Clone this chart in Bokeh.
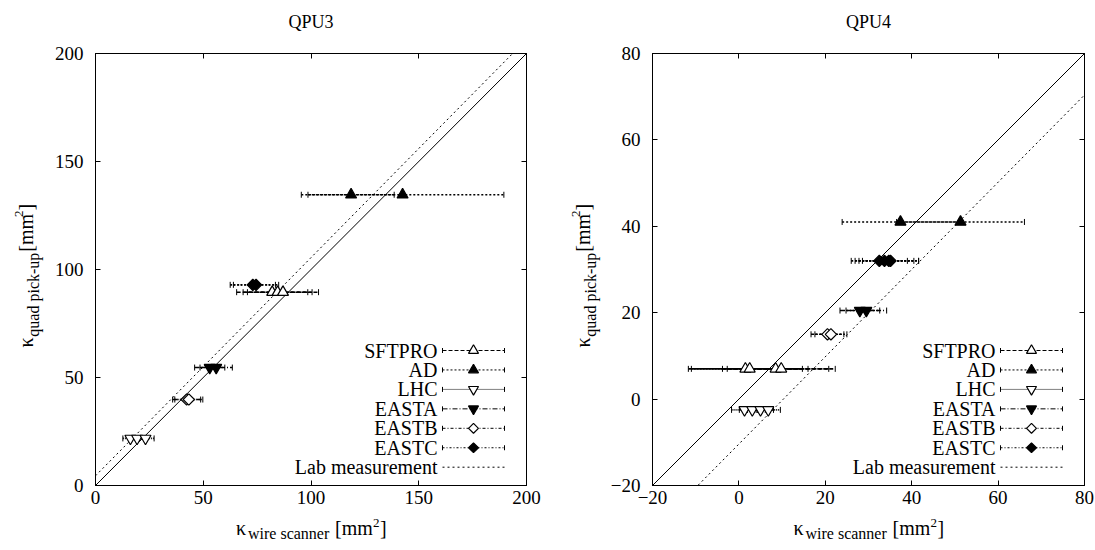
import numpy as np
from bokeh.plotting import figure
from bokeh.layouts import row, column
from bokeh.models import Range1d, LinearAxis, FixedTicker
from bokeh.core.properties import value
from bokeh.embed import file_html
from bokeh.resources import INLINE

SERIES = ["SFTPRO", "AD", "LHC", "EASTA", "EASTB", "EASTC"]
LAB_NAME = "Lab measurement"
TITLES = ["QPU3", "QPU4"]

Q3_RANGE = [0, 200]
Q3_TICKS = [0, 50, 100, 150, 200]
Q4_RANGE = [-20, 80]
Q4_TICKS = [-20, 0, 20, 40, 60, 80]

# ---- QPU3 (x = wire scanner, y = quad pick-up, half-width error in x)
Q3_SFTPRO_X = [82.0, 84.5, 87.0]
Q3_SFTPRO_Y = [89.5, 89.5, 89.5]
Q3_SFTPRO_ERR = [16.5, 16.0, 16.5]
Q3_AD_X = [118.6, 142.5]
Q3_AD_Y = [134.6, 134.6]
Q3_AD_ERR = [20.0, 47.0]
Q3_LHC_X = [16.2, 19.3, 23.2]
Q3_LHC_Y = [21.8, 21.8, 21.8]
Q3_LHC_ERR = [3.5, 3.5, 4.0]
Q3_EASTA_X = [53.0, 56.0]
Q3_EASTA_Y = [54.6, 54.6]
Q3_EASTA_ERR = [7.0, 7.5]
Q3_EASTB_X = [42.3, 43.3]
Q3_EASTB_Y = [39.8, 39.8]
Q3_EASTB_ERR = [6.5, 6.5]
Q3_EASTC_X = [73.0, 74.5]
Q3_EASTC_Y = [92.9, 92.9]
Q3_EASTC_ERR = [10.5, 10.5]
Q3_LAB_SLOPE = 1.01
Q3_LAB_INTERCEPT = 4.5

# ---- QPU4
Q4_SFTPRO_X = [1.5, 2.5, 8.5, 9.8]
Q4_SFTPRO_Y = [7.0, 7.0, 7.0, 7.0]
Q4_SFTPRO_ERR = [13.2, 13.5, 12.3, 12.5]
Q4_AD_X = [37.4, 51.3]
Q4_AD_Y = [41.0, 41.0]
Q4_AD_ERR = [13.5, 14.8]
Q4_LHC_X = [1.3, 3.1, 5.0, 6.8]
Q4_LHC_Y = [-2.5, -2.5, -2.5, -2.5]
Q4_LHC_ERR = [3.0, 3.0, 3.0, 2.8]
Q4_EASTA_X = [28.0, 29.5]
Q4_EASTA_Y = [20.5, 20.5]
Q4_EASTA_ERR = [4.6, 4.7]
Q4_EASTB_X = [20.5, 21.3]
Q4_EASTB_Y = [15.0, 15.0]
Q4_EASTB_ERR = [3.8, 3.7]
Q4_EASTC_X = [32.5, 33.7, 34.7, 35.1]
Q4_EASTC_Y = [32.0, 32.0, 32.0, 32.0]
Q4_EASTC_ERR = [6.5, 6.8, 6.9, 6.5]
Q4_LAB_SLOPE = 1.01
Q4_LAB_INTERCEPT = -10.4

Q3_DATA = {
    "SFTPRO": (Q3_SFTPRO_X, Q3_SFTPRO_Y, Q3_SFTPRO_ERR),
    "AD": (Q3_AD_X, Q3_AD_Y, Q3_AD_ERR),
    "LHC": (Q3_LHC_X, Q3_LHC_Y, Q3_LHC_ERR),
    "EASTA": (Q3_EASTA_X, Q3_EASTA_Y, Q3_EASTA_ERR),
    "EASTB": (Q3_EASTB_X, Q3_EASTB_Y, Q3_EASTB_ERR),
    "EASTC": (Q3_EASTC_X, Q3_EASTC_Y, Q3_EASTC_ERR),
}
Q4_DATA = {
    "SFTPRO": (Q4_SFTPRO_X, Q4_SFTPRO_Y, Q4_SFTPRO_ERR),
    "AD": (Q4_AD_X, Q4_AD_Y, Q4_AD_ERR),
    "LHC": (Q4_LHC_X, Q4_LHC_Y, Q4_LHC_ERR),
    "EASTA": (Q4_EASTA_X, Q4_EASTA_Y, Q4_EASTA_ERR),
    "EASTB": (Q4_EASTB_X, Q4_EASTB_Y, Q4_EASTB_ERR),
    "EASTC": (Q4_EASTC_X, Q4_EASTC_Y, Q4_EASTC_ERR),
}

FONT = "Liberation Serif"
STYLE = {
    "SFTPRO": dict(marker="triangle", fill="white", dash="4 2", angle=0.0, size=11),
    "AD": dict(marker="triangle", fill="black", dash="2 2", angle=0.0, size=11),
    "LHC": dict(marker="inverted_triangle", fill="white", dash="1 1", angle=0.0, size=11),
    "EASTA": dict(marker="inverted_triangle", fill="black", dash="5 2 1 2", angle=0.0, size=11),
    "EASTB": dict(marker="square", fill="white", dash="3 2 1 2", angle=np.pi / 4, size=8),
    "EASTC": dict(marker="square", fill="black", dash="2 2 1 2", angle=np.pi / 4, size=8),
}

TITLE_H = 40
PLOT_H = 473
XLAB_H = 550 - TITLE_H - PLOT_H
FRAME_TOP = 53      # in page pixels
FRAME_H = 432


def text_fig(w, h):
    f = figure(width=w, height=h, x_range=Range1d(0, w), y_range=Range1d(0, h),
               output_backend="svg", toolbar_location=None, min_border=0,
               x_axis_type=None, y_axis_type=None, title=None)
    f.grid.visible = False
    f.outline_line_color = None
    f.background_fill_color = "white"
    f.border_fill_color = "white"
    return f


def put(f, x, y, txt, size, align="left", angle=0.0):
    f.text(x=[x], y=[y], text=[txt], text_font=value(FONT), text_font_size=value(size),
           text_align=align, text_baseline="middle", text_color="black", angle=angle)


def make_panel(title, xr, ticks, data, lab_slope, lab_icpt, total_w, ylab_w, bl, br):
    pw = total_w - ylab_w
    fw = pw - bl - br
    top = FRAME_TOP - TITLE_H
    bottom = PLOT_H - top - FRAME_H
    yr = xr
    fl = ylab_w + bl          # frame left in panel pixels
    fr = fl + fw
    fb = FRAME_TOP + FRAME_H   # frame bottom in page pixels

    def dx(px):
        return xr[0] + (px - fl) * (xr[1] - xr[0]) / fw

    def dy(py):
        return yr[0] + (fb - py) * (yr[1] - yr[0]) / FRAME_H

    p = figure(width=pw, height=PLOT_H, x_range=Range1d(*xr), y_range=Range1d(*yr),
               output_backend="svg", toolbar_location=None, title=None,
               min_border_left=bl, min_border_right=br,
               min_border_top=top, min_border_bottom=bottom)
    p.grid.visible = False
    p.outline_line_color = "black"
    p.background_fill_color = "white"
    p.border_fill_color = "white"

    for ax in (p.xaxis[0], p.yaxis[0]):
        ax.ticker = FixedTicker(ticks=ticks)
        ax.major_tick_in = 5
        ax.major_tick_out = 0
        ax.minor_tick_in = 0
        ax.minor_tick_out = 0
        ax.axis_line_color = "black"
        ax.major_tick_line_color = "black"
        ax.major_label_text_font = FONT
        ax.major_label_text_font_size = "19px"
        ax.major_label_text_color = "black"
    p.xaxis[0].major_label_standoff = 5
    p.yaxis[0].major_label_standoff = 12

    for side in ("above", "right"):
        ax = LinearAxis(ticker=FixedTicker(ticks=ticks), major_tick_in=5, major_tick_out=0,
                        minor_tick_in=0, minor_tick_out=0, major_label_text_font_size="1px",
                        major_label_text_color=None, major_label_standoff=0,
                        axis_line_color="black")
        p.add_layout(ax, side)

    # reference lines
    xs = np.array(xr, dtype=float)
    p.line(xs, xs, line_color="black", line_width=1)
    p.line(xs, lab_slope * xs + lab_icpt, line_color="black", line_width=1, line_dash="2 3")

    # error bars + markers
    for name in SERIES:
        x, y, e = (np.array(a, dtype=float) for a in data[name])
        st = STYLE[name]
        p.segment(x0=x - e, y0=y, x1=x + e, y1=y, line_color="black", line_width=1.6,
                  line_dash=st["dash"])
        p.scatter(np.concatenate([x - e, x + e]), np.concatenate([y, y]), marker="dash",
                  angle=np.pi / 2, size=6, line_color="black", line_width=1)
    for name in SERIES:
        x, y, e = data[name]
        st = STYLE[name]
        p.scatter(x, y, marker=st["marker"], size=st["size"], angle=st["angle"],
                  fill_color=st["fill"], line_color="black", line_width=1.2)

    # legend: text on the left, sample on the right
    names = SERIES + [LAB_NAME]
    for i, name in enumerate(names):
        py = 350 + i * 19.45
        p.text(x=[dx(fr - 89)], y=[dy(py)], text=[name], text_font=value(FONT),
               text_font_size=value("20px"), text_align="right", text_baseline="middle",
               text_color="black")
        x0, x1, xm, yy = dx(fr - 84), dx(fr - 22), dx(fr - 53), dy(py)
        if name in STYLE:
            st = STYLE[name]
            p.segment(x0=[x0], y0=[yy], x1=[x1], y1=[yy], line_color="black", line_width=1,
                      line_dash=st["dash"])
            p.scatter([x0, x1], [yy, yy], marker="dash", angle=np.pi / 2, size=5,
                      line_color="black", line_width=1)
            p.scatter([xm], [yy], marker=st["marker"], size=st["size"] - 1, angle=st["angle"],
                      fill_color=st["fill"], line_color="black", line_width=1.2)
        else:
            p.segment(x0=[x0], y0=[yy], x1=[x1], y1=[yy], line_color="black", line_width=1,
                      line_dash="2 3")

    cx = fl + fw / 2

    # title (vertical centre at page y = 21)
    tf = text_fig(total_w, TITLE_H)
    put(tf, cx, TITLE_H - 21, title, "18px", align="center")

    # x axis label: kappa_{wire scanner} [mm^2]   (page y of text centres)
    xf = text_fig(total_w, XLAB_H)
    y0 = TITLE_H + PLOT_H      # page y of the strip's top
    sx = cx - 75
    for txt, off, yc, fs in [("κ", 0, 527, "20px"), ("wire scanner", 12, 533, "16px"),
                             ("[mm", 99, 527, "20px"), ("2", 137, 522, "13px"),
                             ("]", 144, 527, "20px")]:
        put(xf, sx + off, XLAB_H - (yc - y0), txt, fs)

    # y axis label (rotated): kappa_{quad pick-up} [mm^2]
    yf = text_fig(ylab_w, PLOT_H)
    cy = FRAME_TOP + FRAME_H / 2 - TITLE_H
    sy = cy + 93
    for txt, off, xc, fs in [("κ", 0, 25, "20px"), ("quad pick-up", 12, 33, "16px"),
                             ("[mm", 105, 25, "20px"), ("2", 143, 18, "13px"),
                             ("]", 150, 25, "20px")]:
        put(yf, fl - 95 + xc, PLOT_H - (sy - off), txt, fs, angle=np.pi / 2)

    return column(tf, row(yf, p, spacing=0), xf, spacing=0)


left = make_panel(TITLES[0], Q3_RANGE, Q3_TICKS, Q3_DATA, Q3_LAB_SLOPE, Q3_LAB_INTERCEPT,
                  547, 50, 45, 21)
right = make_panel(TITLES[1], Q4_RANGE, Q4_TICKS, Q4_DATA, Q4_LAB_SLOPE, Q4_LAB_INTERCEPT,
                   548, 60, 45, 11)

layout = row(left, right, spacing=0)
open("out.html", "w").write(file_html(layout, INLINE))
